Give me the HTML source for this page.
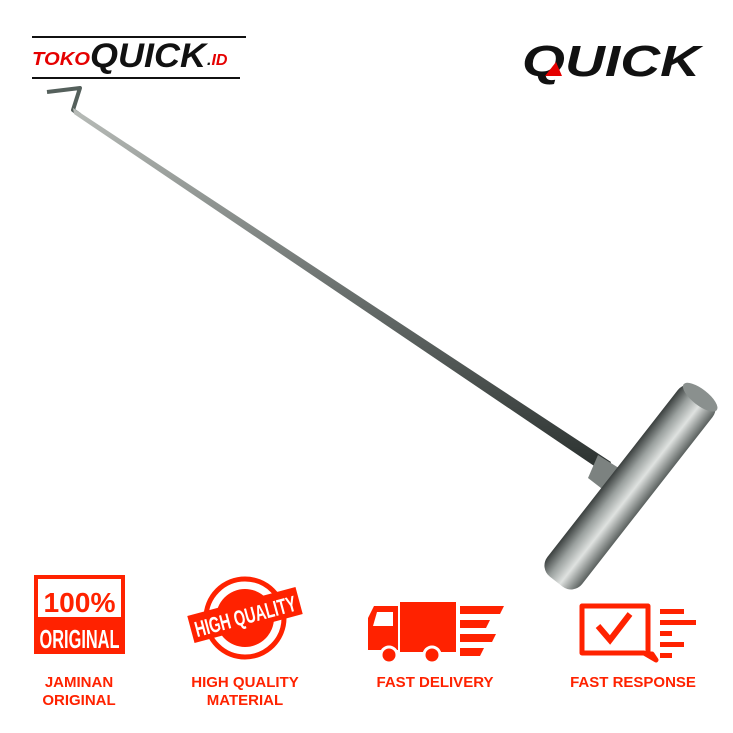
<!DOCTYPE html>
<html><head><style>
body{margin:0;background:#fff}
svg{display:block}
text{font-family:"Liberation Sans",sans-serif;font-weight:bold}
</style></head><body>
<svg width="733" height="733" viewBox="0 0 733 733">
<defs>
<linearGradient id="rod" x1="0" y1="0" x2="0" y2="1">
<stop offset="0" stop-color="#b8bcb8"/><stop offset=".5" stop-color="#6a706e"/><stop offset="1" stop-color="#2a302e"/></linearGradient>
<linearGradient id="hd" x1="0" y1="0" x2="1" y2="0">
<stop offset="0" stop-color="#3a3f3e"/><stop offset=".3" stop-color="#9aa09e"/><stop offset=".6" stop-color="#dfe2e0"/><stop offset="1" stop-color="#5a605e"/></linearGradient>
</defs>
<!-- logos -->
<line x1="32" y1="37" x2="246" y2="37" stroke="#111" stroke-width="2"/>
<line x1="32" y1="78" x2="240" y2="78" stroke="#111" stroke-width="2"/>
<text x="32" y="65" font-size="18" fill="#e50000" font-style="italic" textLength="58" lengthAdjust="spacingAndGlyphs">TOKO</text>
<text x="90" y="67" font-size="34" fill="#111" font-style="italic" font-weight="900" textLength="116" lengthAdjust="spacingAndGlyphs">QUICK</text>
<text x="207" y="65" font-size="16" fill="#111" font-style="italic">.<tspan fill="#e50000">ID</tspan></text>
<text x="522" y="76" font-size="44" fill="#111" font-style="italic" font-weight="900" textLength="178" lengthAdjust="spacingAndGlyphs">QUICK</text>
<polygon points="545,76 556,62 562,76" fill="#e50000"/>
<!-- rod -->
<polyline points="47,92 80,88 73,110 80,115" fill="none" stroke="#55605c" stroke-width="4" stroke-linejoin="round"/>
<polygon points="73,108 74,114 606,474 611,462" fill="url(#rod)"/>
<polygon points="598,455 622,470 610,495 588,478" fill="#7c8280"/>
<g transform="translate(630,487) rotate(38)">
<rect x="-22" y="-120" width="44" height="240" rx="14" fill="url(#hd)"/>
<ellipse cx="0" cy="-114" rx="21" ry="8" fill="#8a908e"/>
</g>
<!-- icon 1 -->
<rect x="34" y="575" width="91" height="79" fill="#ff2200"/>
<rect x="38" y="579" width="83" height="38" fill="#fff"/>
<text x="79.5" y="612" font-size="28" fill="#ff2200" text-anchor="middle" textLength="72" lengthAdjust="spacingAndGlyphs">100%</text>
<text x="79.5" y="648" font-size="26" fill="#fff" text-anchor="middle" textLength="80" lengthAdjust="spacingAndGlyphs">ORIGINAL</text>
<!-- icon 2 -->
<circle cx="245" cy="618" r="39" fill="none" stroke="#ff2200" stroke-width="5"/>
<circle cx="245" cy="618" r="29" fill="#ff2200"/>
<g transform="translate(245,615) rotate(-15)">
<rect x="-56" y="-14" width="112" height="28" fill="#ff2200"/>
<text x="0" y="9" font-size="22" fill="#fff" text-anchor="middle" textLength="104" lengthAdjust="spacingAndGlyphs">HIGH QUALITY</text>
</g>
<!-- icon 3 truck -->
<rect x="400" y="602" width="56" height="50" fill="#ff2200"/>
<path d="M368 650 V618 L374 606 H398 V650 Z" fill="#ff2200"/>
<path d="M373 626 L377 612 H393 V626 Z" fill="#fff"/>
<circle cx="389" cy="655" r="8" fill="#ff2200" stroke="#fff" stroke-width="3"/>
<circle cx="432" cy="655" r="8" fill="#ff2200" stroke="#fff" stroke-width="3"/>
<polygon points="460,606 504,606 500,614 460,614" fill="#ff2200"/>
<polygon points="460,620 490,620 486,628 460,628" fill="#ff2200"/>
<polygon points="460,634 496,634 492,642 460,642" fill="#ff2200"/>
<polygon points="460,648 484,648 480,656 460,656" fill="#ff2200"/>
<!-- icon 4 -->
<path d="M582 606 H648 V654 H652 L656 660 L644 653 H582 Z" fill="none" stroke="#ff2200" stroke-width="5" stroke-linejoin="round"/>
<path d="M598 626 L610 640 L630 614" fill="none" stroke="#ff2200" stroke-width="6"/>
<rect x="660" y="609" width="24" height="5" fill="#ff2200"/>
<rect x="660" y="620" width="36" height="5" fill="#ff2200"/>
<rect x="660" y="631" width="12" height="5" fill="#ff2200"/>
<rect x="660" y="642" width="24" height="5" fill="#ff2200"/>
<rect x="660" y="653" width="12" height="5" fill="#ff2200"/>
<!-- labels -->
<g fill="#ff2200" font-size="15" text-anchor="middle">
<text x="79" y="687">JAMINAN</text>
<text x="79" y="705">ORIGINAL</text>
<text x="245" y="687">HIGH QUALITY</text>
<text x="245" y="705">MATERIAL</text>
<text x="435" y="687">FAST DELIVERY</text>
<text x="633" y="687">FAST RESPONSE</text>
</g>
</svg>
</body></html>
